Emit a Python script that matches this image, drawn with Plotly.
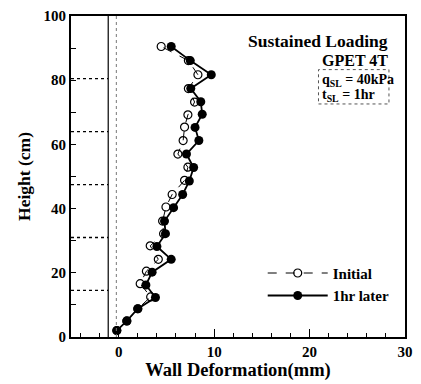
import plotly.graph_objects as go

# Data
height_later = [2, 5, 8.8, 12.3, 16.2, 20.2, 24.2, 28.2, 32.2, 36.1, 40.3, 44.4, 48.6, 52.8, 57, 61.2, 65.3, 69.4, 73.3, 77.4, 81.7, 86.1, 90.5]
defo_later = [-0.2, 0.85, 2.0, 3.85, 2.85, 3.5, 5.5, 4.0, 4.9, 4.8, 5.75, 6.7, 7.4, 7.85, 7.1, 8.4, 8.0, 8.75, 8.6, 7.55, 9.7, 7.5, 5.5]

height_init = [2, 5, 8.8, 12.5, 16.6, 20.5, 24.2, 28.4, 32.2, 36.1, 40.5, 44.4, 48.8, 52.9, 57, 61.2, 65.4, 69.2, 73.2, 77.4, 81.7, 86.1, 90.5]
defo_init = [-0.2, 0.85, 2.0, 3.35, 2.25, 2.9, 4.15, 3.3, 4.7, 4.6, 4.95, 5.6, 6.9, 7.25, 6.2, 6.75, 6.9, 7.25, 7.95, 7.3, 8.3, 7.3, 4.45]

sensor_levels = [14.5, 31, 47.5, 64, 80.5]
wall_face_x = -1.1
zero_ref_x = -0.25

FONT = "Liberation Serif"

fig = go.Figure()
fig.add_trace(go.Scatter(
    x=defo_init, y=height_init, mode="lines+markers", name="Initial",
    line=dict(color="black", width=1, dash="dash"),
    marker=dict(symbol="circle-open", size=8, color="black", line=dict(width=1.2)),
))
fig.add_trace(go.Scatter(
    x=defo_later, y=height_later, mode="lines+markers", name="1hr later",
    line=dict(color="black", width=1.8),
    marker=dict(symbol="circle", size=9, color="black"),
))

shapes = []
for lv in sensor_levels:
    shapes.append(dict(type="line", xref="x", yref="y", x0=-5, x1=wall_face_x, y0=lv, y1=lv,
                       line=dict(color="black", width=1.3, dash="dot")))
shapes.append(dict(type="line", xref="x", yref="y", x0=wall_face_x, x1=wall_face_x, y0=0, y1=100,
                   line=dict(color="black", width=1.2)))
shapes.append(dict(type="line", xref="x", yref="y", x0=zero_ref_x, x1=zero_ref_x, y0=0, y1=100,
                   line=dict(color="#777", width=1, dash="dot")))
shapes.append(dict(type="rect", xref="paper", yref="paper", x0=0.741, x1=0.952, y0=0.726, y1=0.833,
                   line=dict(color="#555", width=1, dash="dot")))

annotations = [
    dict(text="<b>Sustained Loading</b>", x=0.955, y=0.922, xref="paper", yref="paper",
         xanchor="right", yanchor="middle", showarrow=False, font=dict(family=FONT, size=17.5, color="black")),
    dict(text="<b>GPET 4T</b>", x=0.955, y=0.860, xref="paper", yref="paper",
         xanchor="right", yanchor="middle", showarrow=False, font=dict(family=FONT, size=16, color="black")),
    dict(text="<b>q<sub>SL</sub> = 40kPa</b>", x=0.747, y=0.800, xref="paper", yref="paper",
         xanchor="left", yanchor="middle", showarrow=False, font=dict(family=FONT, size=14, color="black")),
    dict(text="<b>t<sub>SL</sub> = 1hr</b>", x=0.747, y=0.752, xref="paper", yref="paper",
         xanchor="left", yanchor="middle", showarrow=False, font=dict(family=FONT, size=14, color="black")),
]

fig.update_layout(
    width=421, height=384,
    margin=dict(l=71, r=14, t=8, b=47),
    paper_bgcolor="white", plot_bgcolor="white",
    shapes=shapes, annotations=annotations,
    showlegend=True,
    legend=dict(x=0.574, y=0.25, xanchor="left", yanchor="top", bgcolor="rgba(0,0,0,0)",
                itemwidth=60, tracegroupgap=0,
                font=dict(family=FONT, size=15, color="black", weight="bold")),
    font=dict(family=FONT, color="black"),
)
fig.update_xaxes(
    range=[-5, 30], tickvals=[0, 10, 20, 30], ticks="inside", ticklen=8, tickwidth=1.3, tickcolor="black",
    minor=dict(dtick=2, tick0=0, ticks="inside", ticklen=4, tickwidth=1, tickcolor="black"),
    showgrid=False, zeroline=False, showline=True, linecolor="black", linewidth=2, mirror=True,
    tickfont=dict(family=FONT, size=15, color="black", weight="bold"),
    title=dict(text="<b>Wall Deformation(mm)</b>", font=dict(family=FONT, size=18.5, color="black"), standoff=2),
)
fig.update_yaxes(
    range=[0, 100], tickvals=[0, 20, 40, 60, 80, 100], ticks="inside", ticklen=5, tickwidth=1.3, tickcolor="black",
    minor=dict(dtick=10, tick0=0, ticks="inside", ticklen=5, tickwidth=1, tickcolor="black"),
    showgrid=False, zeroline=False, showline=True, linecolor="black", linewidth=2, mirror=True,
    tickfont=dict(family=FONT, size=15, color="black", weight="bold"),
    title=dict(text="<b>Height (cm)</b>", font=dict(family=FONT, size=17.5, color="black"), standoff=8),
)

fig.write_html("out.html", config={"displayModeBar": False},
               post_script="document.body.style.margin='0px';")
